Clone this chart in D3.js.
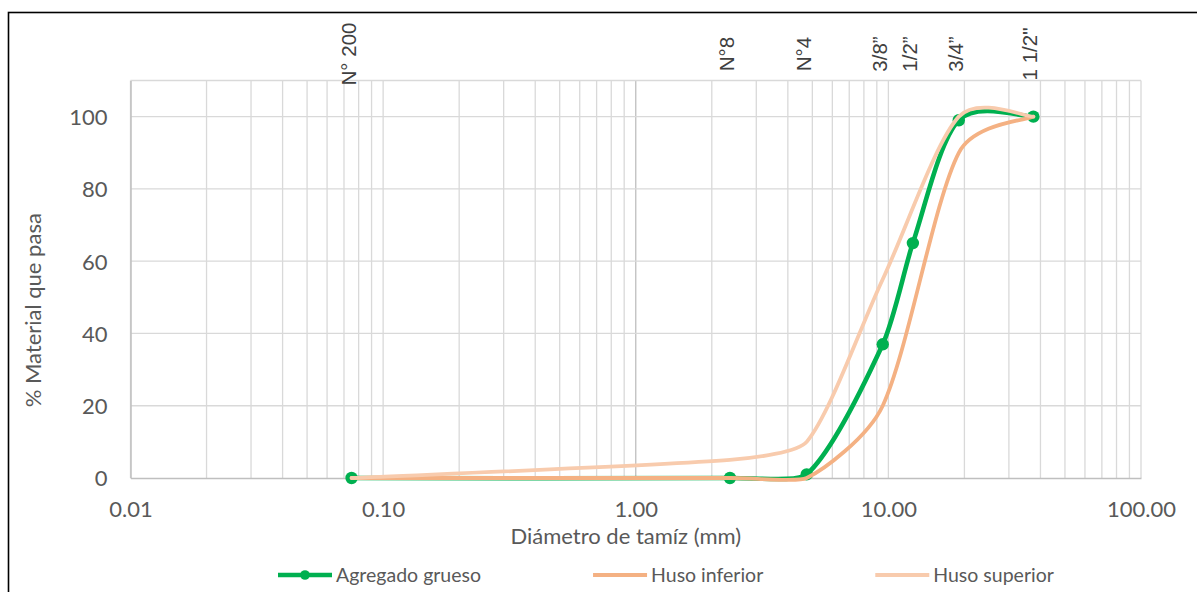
<!DOCTYPE html>
<html>
<head>
<meta charset="utf-8">
<script src="https://cdn.jsdelivr.net/npm/d3@7"></script>
<style>
  body { margin: 0; background: #fff; }
  svg { display: block; }
</style>
</head>
<body>
<div id="chart"></div>
<script>
// sieve sizes (mm) and their names
var sieveSizes = [0.075, 2.36, 4.75, 9.5, 12.5, 19, 37.5];
var sieveNames = ["N° 200", "N°8", "N°4", "3/8”", "1/2”", "3/4”", "1 1/2\""];
var agregadoGrueso = [0, 0, 1, 37, 65, 99, 100];

// grading limits
var husoSizes = [0.075, 2.36, 4.75, 9.5, 19, 37.5];
var husoInferior = [0, 0, 0, 20, 90, 100];
var husoSuperior = [0, 5, 10, 55, 100, 100];

var xTickValues = [0.01, 0.1, 1, 10, 100];
var yTickValues = [0, 20, 40, 60, 80, 100];

var seriesNames = ["Agregado grueso", "Huso inferior", "Huso superior"];
var seriesColors = ["#00b050", "#f4b183", "#f8cbad"];

var width = 1197, height = 592;
var margin = {top: 80.5, right: 56, bottom: 114, left: 130.5},
    plotW = width - margin.left - margin.right,
    plotH = height - margin.top - margin.bottom;

var svg = d3.select("#chart").append("svg")
    .attr("width", width)
    .attr("height", height);

// outer chart frame (runs off the picture at right and bottom)
svg.append("rect")
    .attr("x", 8.5).attr("y", 12.5)
    .attr("width", 1300).attr("height", 700)
    .attr("fill", "#fff")
    .attr("stroke", "#000")
    .attr("stroke-width", 1.6);

var x = d3.scaleLog().domain([0.01, 100]).range([0, plotW]);
var y = d3.scaleLinear().domain([0, 110]).range([plotH, 0]);

var g = svg.append("g")
    .attr("transform", "translate(" + margin.left + "," + margin.top + ")");

// vertical gridlines (log minor + major)
g.append("g")
    .selectAll("line")
    .data(x.ticks())
  .enter().append("line")
    .attr("x1", function(d) { return x(d); })
    .attr("x2", function(d) { return x(d); })
    .attr("y1", 0).attr("y2", plotH)
    .attr("stroke", function(d) { return d === 1 ? "#bfbfbf" : "#d9d9d9"; })
    .attr("stroke-width", 1.3);

// horizontal gridlines
g.append("g")
    .selectAll("line")
    .data(yTickValues.slice(1).concat([110]))
  .enter().append("line")
    .attr("x1", 0).attr("x2", plotW)
    .attr("y1", function(d) { return y(d); })
    .attr("y2", function(d) { return y(d); })
    .attr("stroke", "#d9d9d9")
    .attr("stroke-width", 1.3);

// axes
var xAxis = g.append("g")
    .attr("class", "x axis")
    .attr("transform", "translate(0," + plotH + ")")
    .call(d3.axisBottom(x).tickValues(xTickValues).tickFormat(d3.format(".2f")).tickSize(0).tickPadding(25));

var yAxis = g.append("g")
    .attr("class", "y axis")
    .call(d3.axisLeft(y).tickValues(yTickValues).tickSize(0).tickPadding(23));

g.selectAll(".axis .domain")
    .attr("stroke", "#bfbfbf")
    .attr("stroke-width", 1.5);
g.selectAll(".axis text")
    .attr("font-family", "Lato, sans-serif")
    .attr("font-size", 22)
    .attr("fill", "#595959");
xAxis.selectAll("text").attr("dy", "0.64em");
yAxis.selectAll("text").attr("dy", "0.36em");

// axis titles
svg.append("text")
    .attr("x", margin.left + x(1) - 10)
    .attr("y", 544)
    .attr("text-anchor", "middle")
    .attr("font-family", "Lato, sans-serif")
    .attr("font-size", 22)
    .attr("fill", "#595959")
    .text("Diámetro de tamíz (mm)");

svg.append("text")
    .attr("transform", "translate(41," + (margin.top + plotH / 2 + 31) + ") rotate(-90)")
    .attr("text-anchor", "middle")
    .attr("font-family", "Lato, sans-serif")
    .attr("font-size", 22)
    .attr("fill", "#595959")
    .text("% Material que pasa");

// smoothed line like the spreadsheet's: cardinal tangents, control arms
// shortened when they would not fit in the segment
function smoothPath(pts) {
  var p = d3.path();
  var n = pts.length;
  p.moveTo(pts[0][0], pts[0][1]);
  for (var i = 0; i < n - 1; i++) {
    var p0 = pts[Math.max(i - 1, 0)], p1 = pts[i], p2 = pts[i + 1], p3 = pts[Math.min(i + 2, n - 1)];
    var a = [(p2[0] - p0[0]) / 6, (p2[1] - p0[1]) / 6];
    var b = [(p3[0] - p1[0]) / 6, (p3[1] - p1[1]) / 6];
    var len = Math.hypot(p2[0] - p1[0], p2[1] - p1[1]);
    var arms = Math.hypot(a[0], a[1]) + Math.hypot(b[0], b[1]);
    var k = arms > len / 2 ? (len / 2) / arms : 1;
    p.bezierCurveTo(p1[0] + a[0] * k, p1[1] + a[1] * k,
                    p2[0] - b[0] * k, p2[1] - b[1] * k,
                    p2[0], p2[1]);
  }
  return p.toString();
}

// series
function toPoints(sizes, values) {
  return sizes.map(function(s, i) { return {size: s, value: values[i]}; });
}
var series = [
  {name: seriesNames[0], color: seriesColors[0], width: 4.6, marker: true, points: toPoints(sieveSizes, agregadoGrueso)},
  {name: seriesNames[1], color: seriesColors[1], width: 3.8, marker: false, points: toPoints(husoSizes, husoInferior)},
  {name: seriesNames[2], color: seriesColors[2], width: 3.8, marker: false, points: toPoints(husoSizes, husoSuperior)}
];

series.forEach(function(s) {
  g.append("path")
      .attr("fill", "none")
      .attr("stroke", s.color)
      .attr("stroke-width", s.width)
      .attr("stroke-linecap", "round")
      .attr("d", smoothPath(s.points.map(function(d) { return [x(d.size), y(d.value)]; })));
  if (s.marker) {
    g.selectAll(".dot")
        .data(s.points)
      .enter().append("circle")
        .attr("cx", function(d) { return x(d.size); })
        .attr("cy", function(d) { return y(d.value); })
        .attr("r", 6.2)
        .attr("fill", s.color);
  }
});

// sieve name labels above the plot
var labels = svg.append("g")
    .attr("transform", "translate(" + margin.left + ",0)");
labels.selectAll("text")
    .data(sieveSizes)
  .enter().append("text")
    .attr("transform", function(d) { return "translate(" + (x(d) + 4) + ",54) rotate(-90)"; })
    .attr("text-anchor", "middle")
    .attr("font-family", "'Liberation Sans', Arial, sans-serif")
    .attr("font-size", 20.5)
    .attr("fill", "#404040")
    .text(function(d, i) { return sieveNames[i]; });

// legend
var legend = svg.append("g").attr("transform", "translate(278,575)");
var lx = 0;
series.forEach(function(s) {
  var item = legend.append("g").attr("transform", "translate(" + lx + ",0)");
  item.append("line")
      .attr("x1", 0).attr("x2", 54)
      .attr("stroke", s.color)
      .attr("stroke-width", s.width);
  if (s.marker) {
    item.append("circle").attr("cx", 27).attr("r", 4.8).attr("fill", s.color);
  }
  var t = item.append("text")
      .attr("x", 58)
      .attr("dy", "0.36em")
      .attr("font-family", "Lato, sans-serif")
      .attr("font-size", 19.5)
      .attr("fill", "#595959")
      .text(s.name);
  lx += 58 + t.node().getComputedTextLength() + 112;
});
</script>
</body>
</html>
